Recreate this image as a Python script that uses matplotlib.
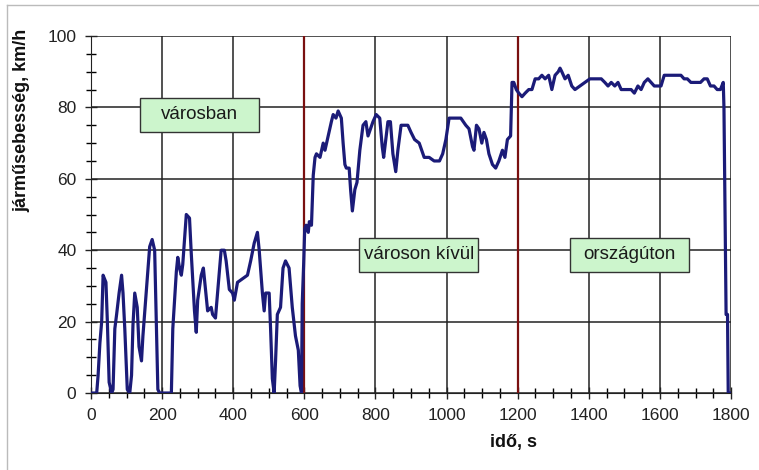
import matplotlib.pyplot as plt
from matplotlib.lines import Line2D
from matplotlib.patches import Rectangle
from matplotlib.ticker import MultipleLocator

plt.rcParams['font.family'] = ['Liberation Sans', 'DejaVu Sans']

# Speed profile (time in s, speed in km/h)
t = [0, 16, 20, 25, 30, 34, 42, 46, 51, 58, 62, 67, 72, 79, 86, 90, 95, 102,
     109, 114, 118, 123, 130, 135, 142, 146, 156, 165, 172, 179, 184, 188, 193,
     226, 230, 240, 244, 249, 254, 258, 268, 277, 282, 291, 296, 300, 310, 316,
     322, 328, 338, 342, 350, 356, 366, 375, 380, 389, 398, 403, 412, 426, 440,
     449, 459, 468, 473, 482, 487, 491, 501, 505, 510, 515, 519, 524, 533, 540,
     547, 557, 566, 575, 583, 588, 592, 594, 598, 601, 605, 611, 614, 620, 625,
     630, 634, 644, 653, 658, 667, 676, 681, 689, 695, 704, 709, 714, 718, 726,
     730, 735, 742, 748, 756, 765, 773, 779, 786, 793, 802, 812, 819, 823, 829,
     835, 842, 849, 857, 863, 872, 891, 900, 910, 923, 937, 951, 965, 980, 989,
     998, 1007, 1017, 1031, 1040, 1054, 1063, 1073, 1077, 1084, 1091, 1099,
     1105, 1112, 1119, 1129, 1138, 1147, 1157, 1164, 1171, 1180, 1184, 1189,
     1196, 1203, 1212, 1221, 1231, 1240, 1249, 1259, 1268, 1277, 1287, 1296,
     1305, 1314, 1319, 1324, 1333, 1342, 1352, 1361, 1375, 1389, 1403, 1417,
     1426, 1435, 1445, 1454, 1463, 1473, 1482, 1491, 1501, 1510, 1519, 1528,
     1538, 1547, 1556, 1566, 1575, 1584, 1594, 1603, 1612, 1621, 1631, 1640,
     1649, 1659, 1668, 1677, 1687, 1696, 1705, 1714, 1724, 1733, 1742, 1752,
     1761, 1770, 1778, 1780, 1786, 1790, 1792, 1800]
speed = [0, 0, 5, 14, 20, 33, 31, 20, 3, 0, 1, 18, 22, 28, 33, 28, 18, 1,
         0, 5, 19, 28, 24, 13, 9, 16, 29, 41, 43, 40, 18, 1, 0,
         0, 18, 34, 38, 35, 33, 36, 50, 49, 39, 23, 17, 26, 33, 35,
         29, 23, 24, 22, 21, 28, 40, 40, 37, 29, 28, 26, 31, 32, 33,
         37, 42, 45, 40, 28, 23, 28, 28, 18, 4, 0, 9, 22, 24, 35,
         37, 35, 24, 16, 12, 2, 0, 25, 36, 46, 47, 45, 48, 47, 61,
         66, 67, 66, 70, 68, 72, 76, 78, 77, 79, 77, 70, 64, 63, 63,
         57, 51, 57, 59, 68, 75, 76, 72, 74, 76, 78, 77, 69, 66, 71,
         76, 76, 67, 62, 68, 75, 75, 73, 71, 70, 66, 66, 65, 65, 67,
         71, 77, 77, 77, 77, 75, 74, 69, 68, 75, 74, 70,
         73, 71, 67, 64, 63, 65, 68, 66, 71, 72, 87, 87,
         85, 84, 83, 84, 85, 85, 88, 88, 89, 88, 89, 85,
         89, 90, 91, 90, 88, 89, 86, 85, 86, 87, 88, 88,
         88, 88, 87, 86, 87, 86, 87, 85, 85, 85, 85, 84,
         86, 85, 87, 88, 87, 86, 86, 86, 89, 89, 89, 89,
         89, 89, 88, 88, 87, 87, 87, 87, 88, 88, 86, 86,
         85, 85, 87, 80, 22, 22, 0, 0]

boundaries = [600, 1200]
phase_labels = ['városban', 'városon kívül', 'országúton']
label_t = [305, 922, 1514]
label_v = [78, 38.7, 38.7]

fig = plt.figure(figsize=(7.59, 4.70), dpi=100)
ax = fig.add_axes([0.1199, 0.1638, 0.8433, 0.7596])

ax.plot(t, speed, color='#1b1b78', linewidth=2.3, zorder=4)
for b in boundaries:
    ax.axvline(b, color='#7a1010', linewidth=1.6, zorder=3)

# label boxes: fixed size (about 335 s wide, 9.5 km/h tall)
box_w, box_h = 335, 9.5
for txt, x, y in zip(phase_labels, label_t, label_v):
    ax.add_patch(Rectangle((x - box_w / 2, y - box_h / 2), box_w, box_h,
                           facecolor='#ccf5cc', edgecolor='#333333',
                           linewidth=1, zorder=5))
    ax.text(x, y, txt, ha='center', va='center', fontsize=13.5,
            color='#1a1a1a', zorder=6)

ax.set_xlim(0, 1800)
ax.set_ylim(0, 100)
ax.xaxis.set_major_locator(MultipleLocator(200))
ax.xaxis.set_minor_locator(MultipleLocator(50))
ax.yaxis.set_major_locator(MultipleLocator(20))
ax.yaxis.set_minor_locator(MultipleLocator(5))
ax.grid(True, which='major', color='#222222', linewidth=1.1)
ax.set_axisbelow(True)
ax.tick_params(which='major', direction='inout', length=9, width=1,
               labelsize=12.5, colors='#222222', pad=6)
ax.tick_params(which='minor', direction='inout', length=7, width=1)
for s in ['top', 'right']:
    ax.spines[s].set_visible(False)
for s in ['left', 'bottom']:
    ax.spines[s].set_color('#222222')

ax.set_xlabel('idő, s', fontsize=13, fontweight='bold', color='#111111')
ax.xaxis.set_label_coords(0.66, -0.115)
ax.set_ylabel('járműsebesség, km/h', fontsize=13, fontweight='bold',
              color='#111111')
ax.yaxis.set_label_coords(-0.095, 0.765)

# thin frame around the chart area, as in the screenshot
fig.add_artist(Line2D([7 / 759, 1], [1 - 5 / 470, 1 - 5 / 470],
                      color='#bbbbbb', linewidth=1))
fig.add_artist(Line2D([7 / 759, 7 / 759], [0, 1 - 5 / 470],
                      color='#bbbbbb', linewidth=1))

fig.savefig('out.png', dpi=100)
